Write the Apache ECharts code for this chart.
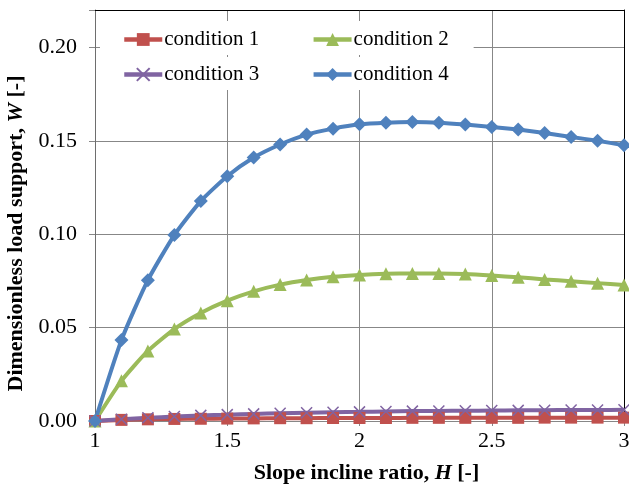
<!DOCTYPE html>
<html>
<head>
<meta charset="utf-8">
<script src="https://cdn.jsdelivr.net/npm/echarts@6/dist/echarts.min.js"></script>
<style>html,body{margin:0;padding:0;background:#fff}#c{width:629px;height:484px}</style>
</head>
<body>
<div id="c"></div>
<script>
const xValues = [1.0, 1.1, 1.2, 1.3, 1.4, 1.5, 1.6, 1.7, 1.8, 1.9, 2.0, 2.1, 2.2, 2.3, 2.4, 2.5, 2.6, 2.7, 2.8, 2.9, 3.0];
const cond1 = [0, 0.0006, 0.0009, 0.0011, 0.0012, 0.0013, 0.0014, 0.0015, 0.0015, 0.0016, 0.0016, 0.0016, 0.0017, 0.0017, 0.0017, 0.0017, 0.0017, 0.0018, 0.0018, 0.0018, 0.0018];
const cond2 = [0, 0.0215, 0.0375, 0.0492, 0.0578, 0.0644, 0.0694, 0.0730, 0.0755, 0.0772, 0.0782, 0.0788, 0.0790, 0.0790, 0.0787, 0.0779, 0.0769, 0.0758, 0.0748, 0.0738, 0.0728];
const cond3 = [0, 0.0009, 0.0017, 0.0024, 0.0030, 0.0034, 0.0038, 0.0041, 0.0044, 0.0047, 0.0049, 0.0051, 0.0053, 0.0054, 0.0055, 0.0056, 0.0057, 0.0058, 0.0059, 0.0059, 0.0060];
const cond4 = [0, 0.0433, 0.0754, 0.0995, 0.1177, 0.1310, 0.1410, 0.1480, 0.1533, 0.1565, 0.1588, 0.1597, 0.1600, 0.1597, 0.1587, 0.1574, 0.1560, 0.1542, 0.1520, 0.1500, 0.1476];
const seriesNames = ['condition 1', 'condition 2', 'condition 3', 'condition 4'];
const xTitle = ['Slope incline ratio, ', 'H', ' [-]'];
const yTitle = ['Dimensionless load support, ', 'W', ' [-]'];

const FONT = "'Liberation Serif', 'Times New Roman', serif";
const pair = (ys) => xValues.map((x, i) => [x, ys[i]]);
const chart = echarts.init(document.getElementById('c'), null, {renderer: 'canvas'});
const richTitle = {
  b: {fontFamily: FONT, fontSize: 22, fontWeight: 'bold', color: '#000'},
  bi: {fontFamily: FONT, fontSize: 22, fontWeight: 'bold', fontStyle: 'italic', color: '#000'}
};
const legendCommon = {
  orient: 'horizontal', itemWidth: 38, itemHeight: 16, itemGap: 52,
  backgroundColor: '#fff',
  lineStyle: {width: 4.5},
  textStyle: {fontFamily: FONT, fontSize: 21, color: '#000', padding: [0, 0, 0, -3]}
};
const gridColor = '#878787';
const lineBase = (name, data, color, symbol, size, extra) => Object.assign({
  name, type: 'line', data: pair(data), smooth: 0.2,
  symbol, symbolSize: size,
  lineStyle: {color, width: 4},
  itemStyle: {color},
  emphasis: {disabled: true}
}, extra || {});

chart.setOption({
  animation: false,
  grid: {left: 95, right: 5, top: 10, bottom: 63, outerBoundsMode: 'none', containLabel: false},
  legend: [
    Object.assign({}, legendCommon, {data: [seriesNames[0], seriesNames[1]], left: 100, top: 21, padding: [8, 25, 5, 22]}),
    Object.assign({}, legendCommon, {data: [seriesNames[2], seriesNames[3]], left: 100, top: 57, padding: [7, 25, 5, 22]})
  ],
  xAxis: [{
    type: 'value', min: 1, max: 3, interval: 0.5,
    name: '{b|' + xTitle[0] + '}{bi|' + xTitle[1] + '}{b|' + xTitle[2] + '}',
    nameLocation: 'middle', nameGap: 41,
    nameTextStyle: {rich: richTitle, padding: [0, 0, 0, 14]},
    axisLine: {show: true, lineStyle: {color: gridColor, width: 1}},
    axisTick: {show: true, inside: false, length: 5, lineStyle: {color: gridColor}},
    axisLabel: {fontFamily: FONT, fontSize: 22, color: '#000', margin: 9,
      formatter: v => String(Math.round(v * 10) / 10)},
    splitLine: {show: true, lineStyle: {color: gridColor, width: 1}}
  }, {
    type: 'value', min: 1, max: 3, position: 'top',
    axisLine: {show: true, onZero: false, lineStyle: {color: '#000', width: 1}},
    axisTick: {show: false}, axisLabel: {show: false}, splitLine: {show: false}
  }],
  yAxis: [{
    type: 'value', min: 0, max: 0.22, interval: 0.05,
    name: '{b|' + yTitle[0] + '}{bi|' + yTitle[1] + '}{b|' + yTitle[2] + '}',
    nameLocation: 'middle', nameGap: 64, nameRotate: 90,
    nameTextStyle: {rich: richTitle, padding: [0, 36, 0, 0]},
    axisLine: {show: true, lineStyle: {color: '#6e6e6e', width: 1}},
    axisTick: {show: true, inside: false, length: 6, lineStyle: {color: gridColor}},
    axisLabel: {fontFamily: FONT, fontSize: 22, color: '#000', margin: 18,
      formatter: v => (v > 0.215 ? '' : v.toFixed(2))},
    splitLine: {show: true, lineStyle: {color: gridColor, width: 1}}
  }, {
    type: 'value', min: 0, max: 0.22, position: 'right',
    axisLine: {show: true, onZero: false, lineStyle: {color: '#000', width: 1}},
    axisTick: {show: false}, axisLabel: {show: false}, splitLine: {show: false}
  }],
  series: [
    lineBase(seriesNames[0], cond1, '#C0504D', 'rect', 12),
    lineBase(seriesNames[1], cond2, '#9BBB59', 'triangle', 13),
    lineBase(seriesNames[2], cond3, '#8064A2', 'path://M0,0L10,10M0,10L10,0', 11,
      {itemStyle: {color: 'rgba(0,0,0,0)', borderColor: '#8064A2', borderWidth: 1.5}}),
    lineBase(seriesNames[3], cond4, '#4F81BD', 'diamond', 14)
  ]
});
</script>
</body>
</html>
